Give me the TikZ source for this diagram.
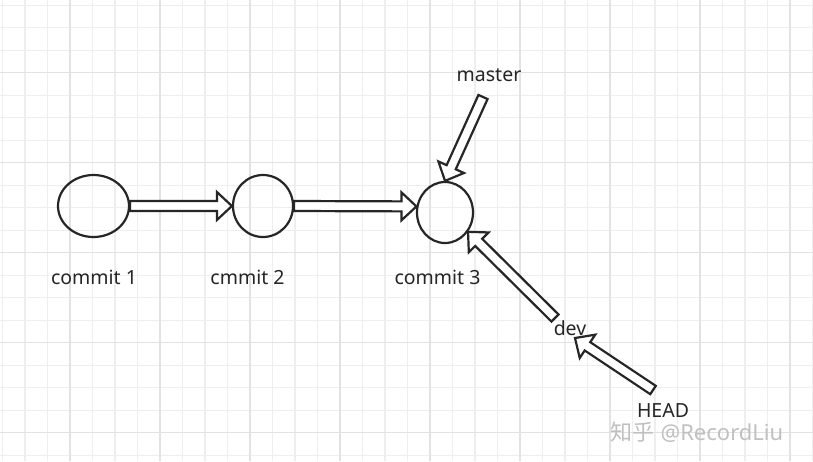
\documentclass[tikz,border=0pt]{standalone}
\usepackage{fontspec}
\setmainfont{Noto Sans}
\newfontfamily\cjkfont{Noto Sans CJK SC}
\usetikzlibrary{shapes.geometric,calc,positioning}
\definecolor{gridminor}{RGB}{238,238,238}
\definecolor{gridmajor}{RGB}{226,226,226}
\definecolor{inkgray}{RGB}{38,38,38}
\definecolor{markgray}{RGB}{192,192,192}

% hollow block arrow from #1 (tail) to #2 (tip)
\newcommand{\hollowarrow}[2]{%
  \draw[blockarrow]
    ($(#1)!5pt!90:(#2)$) -- ($(#2)!15pt!(#1)!5pt!-90:(#1)$)
    -- ($(#2)!15pt!(#1)!14pt!-90:(#1)$) -- (#2)
    -- ($(#2)!15pt!(#1)!14pt!90:(#1)$) -- ($(#2)!15pt!(#1)!5pt!90:(#1)$)
    -- ($(#1)!5pt!-90:(#2)$) -- cycle;}

\begin{document}
\begin{tikzpicture}[
    x=1pt, y=-1pt,
    every node/.style={font=\fontsize{19.5}{23}\selectfont, text=inkgray},
    commit/.style={ellipse, draw=inkgray, line width=2.2pt, inner sep=0pt},
    blockarrow/.style={draw=inkgray, fill=white, line width=2.2pt, line join=miter}
]
% grid paper
\useasboundingbox (0,0) rectangle (813,461);
\fill[white] (0,0) rectangle (813,461);
\foreach \i in {0,...,36}
  \draw[gridminor, line width=1.2pt] ({2.5+22.5*\i},0) -- ++(0,461);
\foreach \i in {0,...,20}
  \draw[gridminor, line width=1.2pt] (0,{5.2+22.5*\i}) -- ++(813,0);
\foreach \i in {0,...,8}
  \draw[gridmajor, line width=1.4pt] ({70+90*\i},0) -- ++(0,461);
\foreach \i in {0,...,4}
  \draw[gridmajor, line width=1.4pt] (0,{72.7+90*\i}) -- ++(813,0);

% commits
\node[commit, minimum width=71pt, minimum height=62pt] (c1) at (93.5,206) {};
\node[commit, minimum width=60pt, minimum height=62pt] (c2) at (263,206) {};
\node[commit, minimum width=56pt, minimum height=61pt] (c3) at (445,212.5) {};

\node[anchor=base] (t1) at (94,284) {commit 1};
\node[anchor=base] (t2) at (247.5,284) {cmmit 2};
\node[anchor=base] (t3) at (437.5,284) {commit 3};

% branch pointers
\node[anchor=base] (master) at (489,81.5) {master};
\node[anchor=base] (dev) at (570,335) {dev};
\node[anchor=base, inner sep=0pt, text depth=0pt] (head) at (663,417) {HEAD};

\coordinate (mtail) at (483,97);
\coordinate (dtail) at (555,318);
\coordinate (htail) at (653,390);
\coordinate (htip) at (575,338);

\hollowarrow{c1.east}{c2.west}
\hollowarrow{c2.east}{c3.168}
\hollowarrow{mtail}{c3.north}
\hollowarrow{dtail}{c3.-40}
\hollowarrow{htail}{htip}

% watermark
\node[anchor=base, inner sep=0pt, text height=16pt, text depth=0pt,
      font=\fontsize{22}{25}\selectfont, text=markgray] (mark) at (697,440)
  {{\cjkfont 知乎} @RecordLiu};
\end{tikzpicture}
\end{document}
